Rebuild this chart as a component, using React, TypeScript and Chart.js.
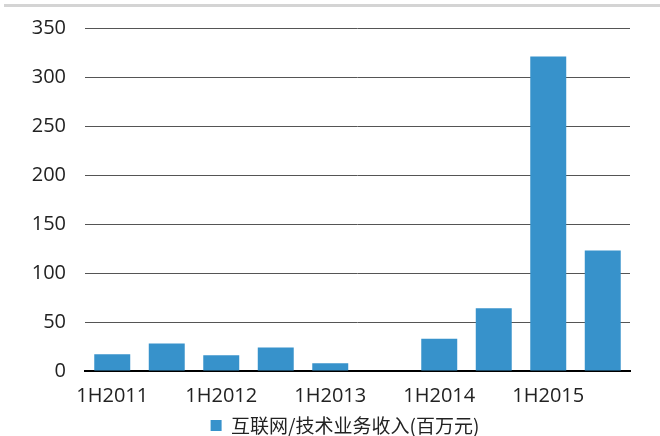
import React, { useEffect, useRef } from "react";
import { Chart, registerables } from "chart.js";

Chart.register(...registerables);

const periods = ["1H2011", "2H2011", "1H2012", "2H2012", "1H2013", "2H2013", "1H2014", "2H2014", "1H2015", "2H2015"];
const revenue = [17, 28, 16, 24, 8, 0, 33, 64, 321, 123];
const yTicks = [0, 50, 100, 150, 200, 250, 300, 350];
const seriesName = "互联网/技术业务收入(百万元)";

// nudge the legend a little right and down from its default slot
const legendOffset = {
  id: "legendOffset",
  afterLayout(chart: any) {
    const l = chart.legend;
    if (!l) return;
    l.left += 30;
    l.right += 30;
    l.top += 9;
    l.bottom += 9;
  },
};

export default function App() {
  const canvasRef = useRef<HTMLCanvasElement | null>(null);

  useEffect(() => {
    document.body.style.margin = "0";
    const canvas = canvasRef.current;
    if (!canvas) return;
    const font = "'Open Sans', 'Noto Sans CJK SC', sans-serif";
    const chart = new Chart(canvas, {
      type: "bar",
      data: {
        labels: periods,
        datasets: [
          {
            label: seriesName,
            data: revenue,
            backgroundColor: "#3792cb",
            borderWidth: 0,
            barPercentage: 0.66,
            categoryPercentage: 1,
          },
        ],
      },
      plugins: [legendOffset],
      options: {
        animation: false,
        responsive: false,
        maintainAspectRatio: false,
        layout: { padding: { top: 28, right: 30, left: 0, bottom: 0 } },
        plugins: {
          tooltip: { enabled: false },
          legend: {
            position: "bottom",
            labels: {
              boxWidth: 11,
              boxHeight: 11,
              padding: 2,
              color: "#222",
              font: { family: "'Noto Sans CJK SC', sans-serif", size: 19 },
            },
          },
        },
        scales: {
          x: {
            grid: { display: false, drawTicks: false },
            border: { display: true, color: "#000", width: 2 },
            afterFit: (axis: any) => {
              axis.height = 34;
            },
            ticks: {
              autoSkip: false,
              maxRotation: 0,
              padding: 13,
              color: "#222",
              font: { family: font, size: 20 },
              callback: (_v, i) => (i % 2 === 0 ? periods[i] : ""),
            },
          },
          y: {
            min: 0,
            max: 350,
            afterFit: (axis: any) => {
              axis.width = 85;
            },
            afterBuildTicks: (axis: any) => {
              axis.ticks = yTicks.map((v) => ({ value: v }));
            },
            grid: { color: "#555", lineWidth: 1, drawTicks: false },
            border: { display: false },
            ticks: {
              padding: 19,
              color: "#222",
              font: { family: font, size: 20, lineHeight: 0.5 },
            },
          },
        },
      },
    });
    return () => chart.destroy();
  }, []);

  return (
    <div style={{ position: "relative", width: 660, height: 436, background: "#fff" }}>
      <div style={{ position: "absolute", left: 4, right: 0, top: 4, height: 3, background: "#d4d4d4" }} />
      <canvas ref={canvasRef} width={660} height={436} style={{ display: "block" }} />
    </div>
  );
}
